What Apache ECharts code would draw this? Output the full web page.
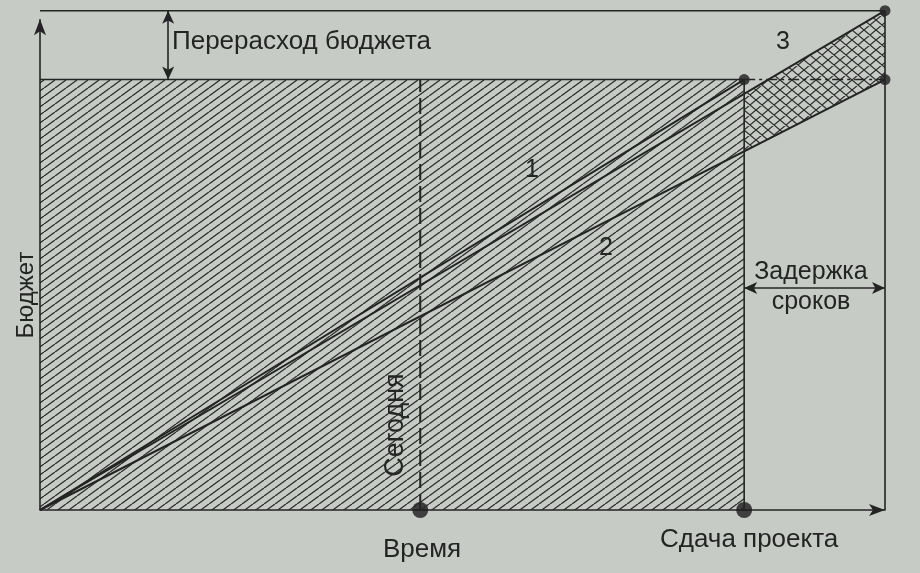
<!DOCTYPE html>
<html><head><meta charset="utf-8">
<script src="https://cdn.jsdelivr.net/npm/echarts@6/dist/echarts.min.js"></script>
<style>html,body{margin:0;padding:0;background:#c6cbc6}#c{width:920px;height:573px}</style>
</head><body><div id="c"></div>
<script>
// ---- data (time units, budget %) ----
const planLine = [[0, 0], [10, 100]];          // 1
const forecastLine = [[0, 0], [12, 116]];      // 3
const actualLine = [[0, 0], [12, 100]];        // 2
const budgetLevel = [[0, 100], [10, 100]];
const overrunLevel = [[0, 116], [12, 116]];
const budgetExtension = [[10, 100], [12, 100]];
const todayLine = [[5.4, 0], [5.4, 100]];
const deadlineEdge = [[10, 0], [10, 100]];
const delayEdge = [[12, 0], [12, 116]];
const overrunZone = [[10, 96.7], [12, 116], [12, 100], [10, 83.3]];
const topDots = [[10, 100], [12, 116], [12, 100]];
const bottomDots = [[5.4, 0], [10, 0]];
const budgetAxis = [[0, 0], [0, 114]];
const overrunArrow = [[1.82, 100], [1.82, 116]];
const delayArrow = [[10, 51.6], [12, 51.6]];
const lineLabels = ['1', '2', '3'];

const INK = '#242424';
const FONT = '"Liberation Sans", Arial, sans-serif';

function hatch(w, h, cross, lw) {
  const c = document.createElement('canvas'); c.width = w; c.height = h;
  const g = c.getContext('2d'); g.strokeStyle = '#2c2c2c'; g.lineWidth = lw;
  g.beginPath();
  for (const dx of [-w, 0, w]) { g.moveTo(dx, h); g.lineTo(dx + w, 0); }
  if (cross) { for (const dx of [-w, 0, w]) { g.moveTo(dx, 0); g.lineTo(dx + w, h); } }
  g.stroke();
  return c;
}
const diag = hatch(11, 8, false, 1.3);
const crossP = hatch(12, 10, true, 1.2);

function seg(data, width, extra) {
  return Object.assign({
    type: 'line', data: data, symbol: 'none', clip: false, silent: true,
    lineStyle: { color: INK, width: width }
  }, extra || {});
}

const chart = echarts.init(document.getElementById('c'));
chart.setOption({
  backgroundColor: '#c6cbc6',
  animation: false,
  grid: { left: 40, right: 35, top: 6.4, bottom: 63 },
  xAxis: {
    type: 'value', min: 0, max: 12,
    splitLine: { show: false }, axisTick: { show: false }, axisLabel: { show: false },
    axisLine: { symbol: ['none', 'arrow'], symbolSize: [9, 16], lineStyle: { color: INK, width: 1.6 } }
  },
  yAxis: {
    type: 'value', min: 0, max: 117,
    splitLine: { show: false }, axisTick: { show: false }, axisLabel: { show: false },
    axisLine: { show: false }
  },
  series: [
    // hatched planned budget area
    seg(budgetLevel, 1.6, { areaStyle: { color: { image: diag, repeat: 'repeat' }, opacity: 1 } }),
    {
      type: 'custom', clip: false, silent: true, data: [[0, 0]],
      renderItem: function (params, api) {
        return {
          type: 'polygon',
          shape: { points: overrunZone.map(p => api.coord(p)) },
          style: { fill: { image: crossP, repeat: 'repeat' }, stroke: null }
        };
      }
    },
    seg(overrunLevel, 1.6),
    seg(deadlineEdge, 1.6),
    seg(delayEdge, 1.6),
    seg(budgetExtension, 1.4, { lineStyle: { color: INK, width: 1.4, type: [11, 4, 3, 4] } }),
    seg(todayLine, 2, { lineStyle: { color: INK, width: 2, type: [16, 6] } }),
    seg(planLine, 2),
    seg(forecastLine, 2),
    seg(actualLine, 2),
    {
      type: 'line', data: [], clip: false, silent: true,
      markLine: {
        silent: true, symbol: ['arrow', 'arrow'], symbolSize: [9, 13],
        lineStyle: { color: INK, width: 1.6, type: 'solid' }, label: { show: false },
        data: [
          [{ coord: overrunArrow[0] }, { coord: overrunArrow[1] }],
          [{ coord: delayArrow[0] }, { coord: delayArrow[1] }],
          [{ coord: budgetAxis[0], symbol: 'none' }, { coord: budgetAxis[1], symbol: 'arrow', symbolSize: [9, 16] }]
        ]
      }
    },
    { type: 'scatter', data: topDots, symbolSize: 11, clip: false, silent: true, itemStyle: { color: '#1c1c1c' } },
    { type: 'scatter', data: bottomDots, symbolSize: 16, clip: false, silent: true, itemStyle: { color: '#1c1c1c' } }
  ],
  graphic: [
    { type: 'text', x: 172, y: 42, style: { text: 'Перерасход бюджета', font: '26px ' + FONT, fill: INK, align: 'left', verticalAlign: 'middle' } },
    { type: 'text', x: 532, y: 170, style: { text: lineLabels[0], font: '25px ' + FONT, fill: INK, align: 'center', verticalAlign: 'middle' } },
    { type: 'text', x: 606, y: 248, style: { text: lineLabels[1], font: '25px ' + FONT, fill: INK, align: 'center', verticalAlign: 'middle' } },
    { type: 'text', x: 783, y: 42, style: { text: lineLabels[2], font: '25px ' + FONT, fill: INK, align: 'center', verticalAlign: 'middle' } },
    { type: 'text', x: 811, y: 272, style: { text: 'Задержка', font: '25px ' + FONT, fill: INK, align: 'center', verticalAlign: 'middle' } },
    { type: 'text', x: 811, y: 302, style: { text: 'сроков', font: '25px ' + FONT, fill: INK, align: 'center', verticalAlign: 'middle' } },
    { type: 'text', x: 422, y: 550, style: { text: 'Время', font: '26px ' + FONT, fill: INK, align: 'center', verticalAlign: 'middle' } },
    { type: 'text', x: 660, y: 540, style: { text: 'Сдача проекта', font: '26px ' + FONT, fill: INK, align: 'left', verticalAlign: 'middle' } },
    { type: 'text', x: 26, y: 295, rotation: Math.PI / 2, style: { text: 'Бюджет', font: '24px ' + FONT, fill: INK, align: 'center', verticalAlign: 'middle' } },
    { type: 'text', x: 396, y: 425, rotation: Math.PI / 2, style: { text: 'Сегодня', font: '27px ' + FONT, fill: INK, align: 'center', verticalAlign: 'middle' } }
  ]
});
</script></body></html>
